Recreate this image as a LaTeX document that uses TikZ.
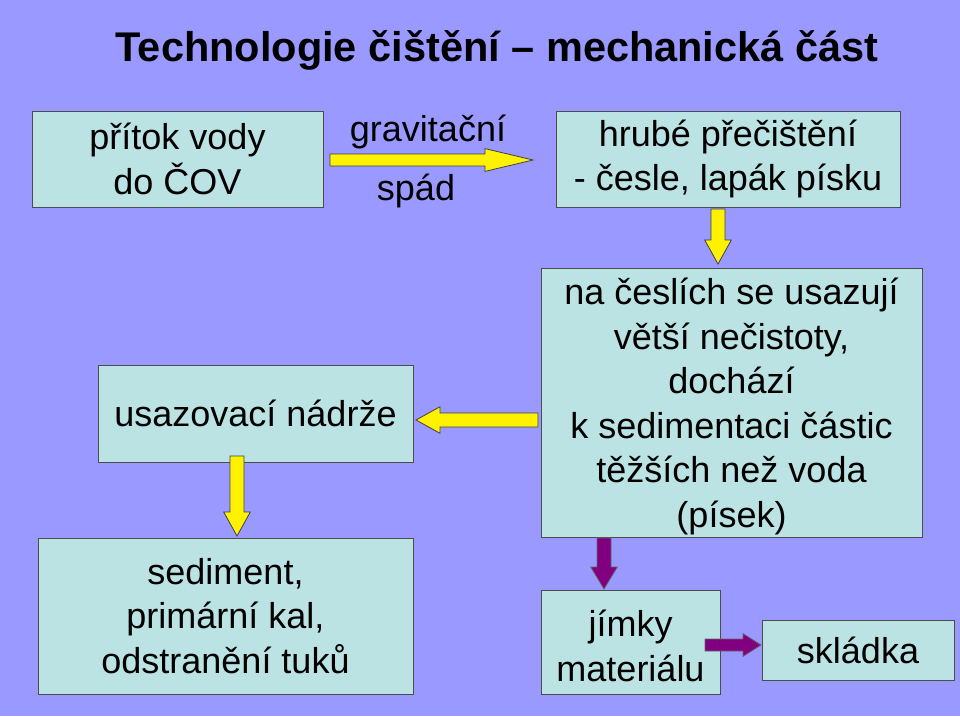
\documentclass[tikz,border=0pt]{standalone}
\usepackage{fontspec}
\setmainfont{Liberation Sans}
\begin{document}
\begin{tikzpicture}[x=1pt,y=-1pt,
 box/.style={draw=black!70,line width=0.8pt,fill=boxc,inner sep=0pt},
 txt/.style={font=\fontsize{36}{44.5}\selectfont,align=center},
 ya/.style={fill=yellow,draw=black!75,line width=0.8pt},
 pa/.style={fill=purp,draw=black!60,line width=0.8pt}]
\definecolor{bgc}{HTML}{9999FF}
\definecolor{boxc}{HTML}{BCE3E3}
\definecolor{purp}{HTML}{800080}
\fill[bgc] (0,0) rectangle (960,716);
\useasboundingbox (0,0) rectangle (960,716);
\node[font=\bfseries\fontsize{41.5}{48}\selectfont] (title) at (497,50) {Technologie čištění – mechanická část};
\newcommand\bx[7]{\draw[box] (#2,#3) rectangle (#4,#5); \node[txt] (#1) at ({(#2+#4)/2},{(#3+#5)/2+#7}) {#6};}
\bx{a}{32}{111}{323}{207}{přítok vody\\do ČOV}{0}
\bx{b}{556}{111}{900}{207}{hrubé přečištění\\- česle, lapák písku}{0}
\bx{c}{541}{268}{922}{537}{na česlích se usazují\\větší nečistoty,\\dochází\\k sedimentaci částic\\těžších než voda\\(písek)}{4}
\bx{d}{98}{365}{413}{462}{usazovací nádrže}{0}
\bx{e}{38}{538}{413}{694}{sediment,\\primární kal,\\odstranění tuků}{0}
\bx{f}{541}{590}{720}{694}{jímky\\materiálu}{4}
\bx{g}{762}{620}{954}{680}{skládka}{0}
\node[txt] (gr) at (428,132) {gravitační};
\node[txt] (sp) at (416,191) {spád};
\newcommand\rarr[6]{\draw[#6] (#1,{#3-#4}) -- ({#2-#5},{#3-#4}) -- ({#2-#5},{#3-1.9*#4}) -- (#2,#3) -- ({#2-#5},{#3+1.9*#4}) -- ({#2-#5},{#3+#4}) -- (#1,{#3+#4}) -- cycle;}
\newcommand\larr[6]{\draw[#6] (#1,{#3-#4}) -- ({#2+#5},{#3-#4}) -- ({#2+#5},{#3-1.9*#4}) -- (#2,#3) -- ({#2+#5},{#3+1.9*#4}) -- ({#2+#5},{#3+#4}) -- (#1,{#3+#4}) -- cycle;}
\newcommand\darr[6]{\draw[#6] ({#3-#4},#1) -- ({#3-#4},{#2-#5}) -- ({#3-1.9*#4},{#2-#5}) -- (#3,#2) -- ({#3+1.9*#4},{#2-#5}) -- ({#3+#4},{#2-#5}) -- ({#3+#4},#1) -- cycle;}
\rarr{330}{533}{160}{6}{48}{ya}
\darr{209}{264}{718}{7}{24}{ya}
\larr{538}{416}{420}{7}{24}{ya}
\darr{456}{536}{237}{7}{24}{ya}
\darr{538}{589}{604}{7}{22}{pa}
\rarr{705}{761}{645}{6}{18}{pa}
\end{tikzpicture}
\end{document}
